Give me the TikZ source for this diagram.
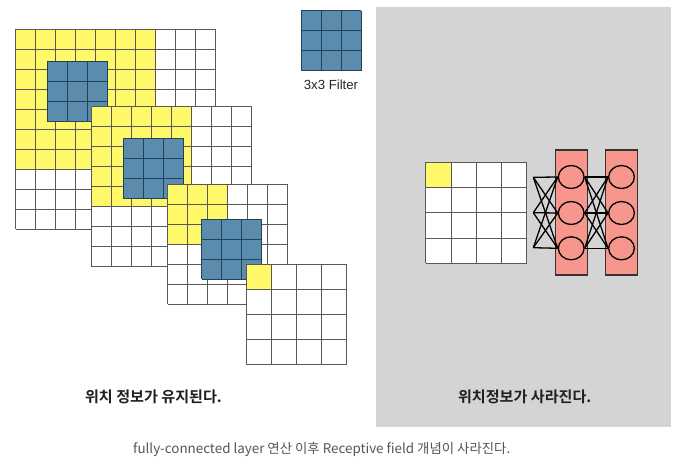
\documentclass[tikz,border=0pt]{standalone}
\usepackage{fontspec}
\setmainfont{Liberation Sans}
\newfontfamily\kr{Noto Sans CJK KR}[BoldFont={* Bold}]
\usetikzlibrary{shapes.geometric}
\definecolor{yel}{HTML}{FFF96A}
\definecolor{blu}{HTML}{5A8CAD}
\definecolor{blul}{HTML}{24405A}
\definecolor{salmon}{HTML}{F7968C}
\definecolor{panel}{HTML}{D4D4D4}
\definecolor{capgray}{HTML}{555555}
\definecolor{gridc}{HTML}{585858}
\tikzset{
  gridline/.style={draw=gridc,line width=0.8pt},
  filtline/.style={draw=blul,line width=0.9pt},
  layerbox/.style={draw=black!80,line width=1.4pt,fill=salmon,minimum width=32pt,minimum height=125pt,inner sep=0pt},
  neuron/.style={ellipse,draw=black,line width=1.3pt,fill=salmon,minimum width=25.7pt,minimum height=23pt,inner sep=0pt},
  conn/.style={draw=black,line width=1.3pt},
  bigtext/.style={font=\kr\bfseries\fontsize{15.1}{17}\selectfont,text=black!88,inner sep=0pt},
}
% #1 x, #2 y, #3 n cells, #4 cell size, #5 yellow cells
\newcommand\cnngrid[5]{%
  \fill[white] (#1,#2) rectangle ++(#3*#4,#3*#4);
  \ifnum#5>0 \fill[yel] (#1,#2) rectangle ++(#5*#4,#5*#4);\fi
  \foreach \gk in {0,...,#3}{%
    \draw[gridline] (#1+\gk*#4,#2) -- ++(0,#3*#4);
    \draw[gridline] (#1,#2+\gk*#4) -- ++(#3*#4,0);
  }%
}
% #1 x, #2 y
\newcommand\cnnfilter[2]{%
  \fill[blu] (#1,#2) rectangle ++(60,60);
  \foreach \fk in {0,...,3}{%
    \draw[filtline] (#1+\fk*20,#2) -- ++(0,60);
    \draw[filtline] (#1,#2+\fk*20) -- ++(60,0);
  }%
}
\begin{document}
\begin{tikzpicture}[x=1pt,y=-1pt]
\useasboundingbox (0,0) rectangle (682,463);
\fill[white] (0,0) rectangle (682,463);
% right panel
\fill[panel] (376,7) rectangle (671,427);

% stacked feature maps
\cnngrid{15.7}{29.3}{10}{20}{7}
\cnnfilter{47.3}{61}
\cnngrid{91.7}{106.7}{8}{20}{5}
\cnnfilter{123.3}{138.3}
\cnngrid{167.7}{184.3}{6}{20}{3}
\cnnfilter{201.7}{219.3}
\cnngrid{246}{264}{4}{25.2}{1}

% 3x3 filter legend
\cnnfilter{301}{10.7}
\node[font=\fontsize{13.2}{15}\selectfont,text=black!85,inner sep=0pt] (ftxt) at (331,85) {3x3 Filter};

% right side
\cnngrid{425.7}{162.3}{4}{25.2}{1}
\node[layerbox] (box1) at (571.2,212.5) {};
\node[layerbox] (box2) at (621.7,212.5) {};
\foreach \j/\yy in {1/177,2/213,3/248.3}{
  \node[neuron] (a\j) at (571.2,\yy) {};
  \node[neuron] (b\j) at (621.5,\yy) {};
}
\coordinate (p1) at (533.3,177.3);
\coordinate (p2) at (533.3,212.7);
\coordinate (p3) at (533.3,247.7);
\foreach \i in {1,2,3}{
  \foreach \j in {1,2,3}{
    \draw[conn] (p\i) -- (a\j.west);
    \draw[conn] (a\i.east) -- (b\j.west);
  }
}

% labels
\node[bigtext] (lt) at (153.5,397) {위치 정보가 유지된다.};
\node[bigtext] (rt) at (524.7,397) {위치정보가 사라진다.};
\node[font=\kr\fontsize{13.4}{15}\selectfont,text=capgray,inner sep=0pt] (cap) at (321.7,449) {fully-connected layer 연산 이후 Receptive field 개념이 사라진다.};
\end{tikzpicture}
\end{document}
